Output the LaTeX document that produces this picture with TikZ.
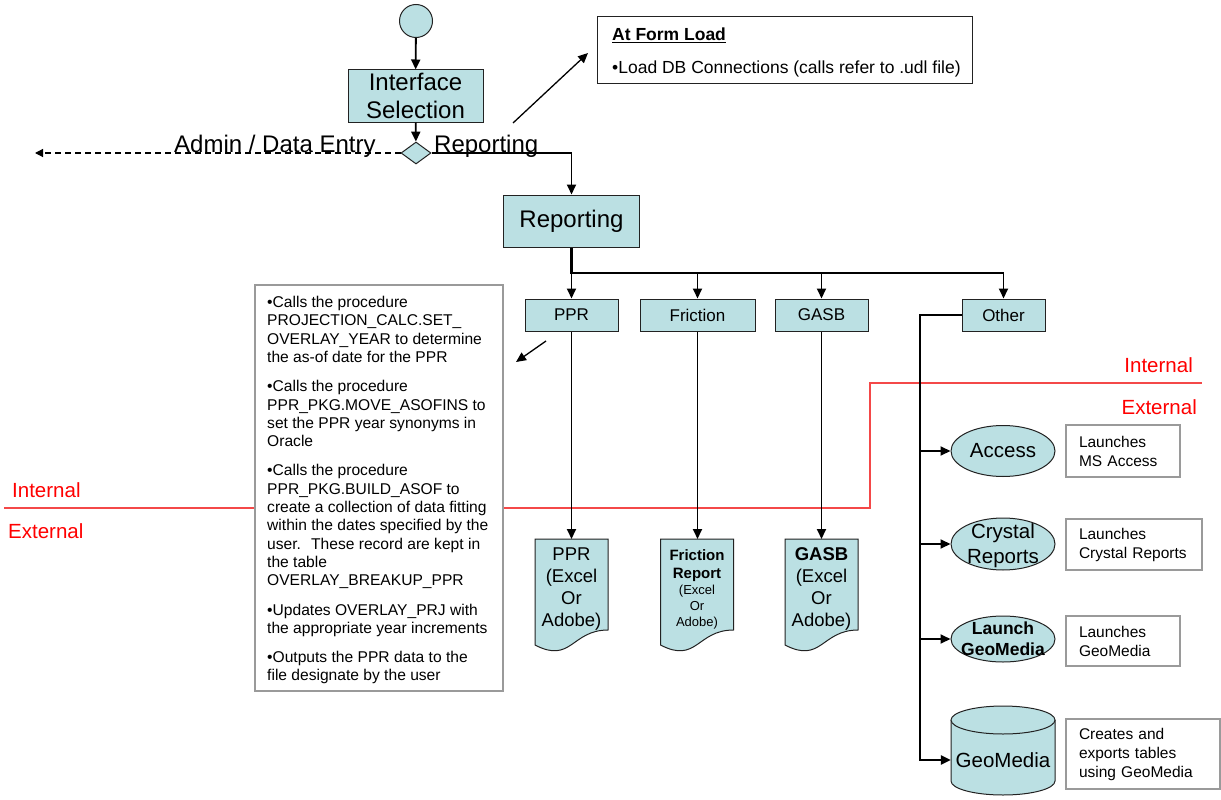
\documentclass[tikz,border=0pt]{standalone}
\usepackage{fontspec}
\setmainfont{Liberation Sans}
\usetikzlibrary{arrows.meta,shapes.geometric,calc}
\definecolor{boxfill}{HTML}{BBE0E3}
\definecolor{edge}{HTML}{222222}
\definecolor{notegray}{HTML}{9A9A9A}
\definecolor{zonered}{HTML}{FF0000}
\definecolor{zoneline}{HTML}{F44848}
\newcommand{\fsz}[2]{\fontsize{#1}{#2}\selectfont}
% document shape with a wavy bottom edge, drawn around a centre coordinate
\newcommand{\docshape}[1]{%
  \filldraw[docbody] ($(#1)+(-36.5,-56)$) -- ($(#1)+(36.5,-56)$) -- ($(#1)+(36.5,35)$)
    .. controls ($(#1)+(0,35)$) and ($(#1)+(0,69)$) .. ($(#1)+(-36.5,50)$) -- cycle;}

\begin{document}
\begin{tikzpicture}[x=1pt,y=-1pt,
  flow/.style={draw=edge, fill=boxfill, line width=1pt, inner sep=0pt},
  docbody/.style={draw=edge, fill=boxfill, line width=1pt},
  desc/.style={draw=notegray, fill=white, line width=1.2pt, inner xsep=13pt, inner ysep=0pt, align=left, font=\fsz{15.5}{19}},
  arr/.style={draw=black, line width=1.8pt, -{Triangle[length=10pt,width=9pt]}},
  trunk/.style={draw=black, line width=2.5pt},
  zone/.style={text=zonered, inner sep=0pt, font=\fsz{20.5}{24}},
  txt/.style={inner sep=0pt},
]
\fill[white] (0,0) rectangle (1221,800);
\useasboundingbox (0,0) rectangle (1221,800);

% internal / external boundary
\draw[zoneline, line width=1.5pt] (4,508) -- (870,508) -- (870,383) -- (1202,383);
\node[zone, anchor=base west] (intl) at (12,497) {Internal};
\node[zone, anchor=base west] (extl) at (8,538) {External};
\node[zone, anchor=base east] (intr) at (1193,372) {Internal};
\node[zone, anchor=base east] (extr) at (1197,414) {External};

% start and interface selection
\node[flow, circle, minimum size=33pt] (start) at (416,21) {};
\node[flow, minimum width=135pt, minimum height=52pt, align=center, font=\fsz{24}{28}] (iface) at (415.5,96) {Interface\\Selection};
\node[flow, diamond, minimum width=30pt, minimum height=22pt] (dec) at (416,153) {};
\draw[arr] (start) -- (iface);
\draw[arr] (iface) -- (dec);

% branch labels
\coordinate (adminend) at (35,153);
\draw[line width=1.2pt, dash pattern=on 6pt off 4pt, -{Triangle[length=8pt,width=8pt]}] (dec.west) -- (adminend);
\node[txt, anchor=base west, font=\fsz{24}{28}] (adminlbl) at (174,152) {Admin / Data Entry};
\node[txt, anchor=base west, font=\fsz{24}{28}] (replbl) at (434,152) {Reporting};

% form load note
\node[draw=edge, line width=1pt, fill=white, minimum width=375pt, minimum height=67pt] (formbox) at (784.5,50.5) {};
\node[txt, anchor=base west, font=\bfseries\fsz{17.5}{21}] (formtitle) at (612,41) {\underline{At Form Load}};
\node[txt, anchor=base west, font=\fsz{17.5}{21}] (formitem) at (612,74) {•Load DB Connections (calls refer to .udl file)};
\coordinate (fl1) at (513,123);
\coordinate (fl2) at (588,53);
\draw[arr, line width=1.3pt] (fl1) -- (fl2);

% reporting
\node[flow, minimum width=136pt, minimum height=52pt, font=\fsz{24}{28}] (rep) at (571.5,221) {Reporting};
\draw[arr] (dec.east) -| (rep.north);

\node[flow, minimum width=93pt, minimum height=32pt, font=\fsz{17}{20}] (ppr) at (571.5,315) {PPR};
\node[flow, minimum width=115pt, minimum height=32pt, font=\fsz{17}{20}] (fric) at (697.5,315) {Friction};
\node[flow, minimum width=93pt, minimum height=32pt, font=\fsz{17}{20}] (gasb) at (821.5,315) {GASB};
\node[flow, minimum width=83pt, minimum height=32pt, font=\fsz{17}{20}] (other) at (1003.5,315) {Other};

\coordinate (bus) at (571.5,273);
\draw[trunk] (rep.south) -- (bus) -- (bus -| other.north);
\draw[arr] (bus) -- (ppr.north);
\draw[arr] (bus -| fric.north) -- (fric.north);
\draw[arr] (bus -| gasb.north) -- (gasb.north);
\draw[arr] (bus -| other.north) -- (other.north);

% report outputs
\coordinate (pprc) at (571.5,595);
\coordinate (fricc) at (697,595);
\coordinate (gasbc) at (821.5,595);
\docshape{pprc}
\docshape{fricc}
\docshape{gasbc}
\coordinate (pprtop) at (571.5,539);
\coordinate (frictop) at (697.5,539);
\coordinate (gasbtop) at (821.5,539);
\draw[arr] (ppr) -- (pprtop);
\draw[arr] (fric) -- (frictop);
\draw[arr] (gasb) -- (gasbtop);
\node[txt, text width=73pt, align=center, font=\fsz{18.5}{22}] (pprdoc) at (571.5,589) {PPR\\(Excel\\Or\\Adobe)};
\node[txt, text width=73pt, align=center, font=\fsz{15}{18}] (fricdoc) at (697,589) {\bfseries Friction\\Report\par\mdseries\fsz{13}{16}(Excel\\Or\\Adobe)\par};
\node[txt, text width=73pt, align=center, font=\fsz{18.5}{22}] (gasbdoc) at (821.5,589) {\bfseries GASB\par\mdseries (Excel\\Or\\Adobe)};

% procedure notes
\node[draw=notegray, line width=1.2pt, fill=white, minimum width=248pt, minimum height=406pt] (procbox) at (379,488) {};
\node[txt, anchor=north west, align=left, font=\fsz{15.6}{18.3}] (proctext) at (267,296) {%
•Calls the procedure\\
PROJECTION\_CALC.SET\_\\
OVERLAY\_YEAR to determine\\
the as-of date for the PPR\\[11pt]
•Calls the procedure\\
PPR\_PKG.MOVE\_ASOFINS to\\
set the PPR year synonyms in\\
Oracle\\[11pt]
•Calls the procedure\\
PPR\_PKG.BUILD\_ASOF to\\
create a collection of data fitting\\
within the dates specified by the\\
user.~ These record are kept in\\
the table\\
OVERLAY\_BREAKUP\_PPR\\[11pt]
•Updates OVERLAY\_PRJ with\\
the appropriate year increments\\[11pt]
•Outputs the PPR data to the\\
file designate by the user};
\coordinate (pa1) at (546,341);
\coordinate (pa2) at (516,362);
\draw[arr, line width=1.3pt] (pa1) -- (pa2);

% other tools
\node[flow, ellipse, minimum width=104pt, minimum height=51pt] (acc) at (1003,451) {};
\node[txt, font=\fsz{20.5}{24}] (acctext) at (acc) {Access};
\node[flow, ellipse, minimum width=104pt, minimum height=52pt] (cry) at (1003,544) {};
\node[txt, align=center, font=\fsz{20.5}{24.5}] (crytext) at (1003,545.5) {Crystal\\Reports};
\node[flow, ellipse, minimum width=104pt, minimum height=46pt] (lgm) at (1003,639) {};
\node[txt, align=center, font=\bfseries\fsz{17.5}{21}] (lgmtext) at (lgm) {Launch\\GeoMedia};

% GeoMedia database cylinder
\fill[boxfill] (951,720) -- (951,781) arc[start angle=180, end angle=0, x radius=52, y radius=14] -- (1055,720) -- cycle;
\draw[edge, line width=1pt] (951,720) -- (951,781) arc[start angle=180, end angle=0, x radius=52, y radius=14] -- (1055,720);
\filldraw[draw=edge, fill=boxfill, line width=1pt] (1003,720) ellipse [x radius=52, y radius=14];
\node[txt, minimum width=104pt, font=\fsz{20.5}{24}] (geomedia) at (1003,760) {GeoMedia};

\coordinate (otrunk) at (920,315);
\draw[trunk, -{Triangle[length=10pt,width=9pt]}] (other.west) -- (otrunk) |- (geomedia.west);
\draw[arr] (otrunk |- acc.west) -- (acc.west);
\draw[arr] (otrunk |- cry.west) -- (cry.west);
\draw[arr] (otrunk |- lgm.west) -- (lgm.west);

\node[desc, minimum width=114pt, minimum height=52pt, text width=88pt] (accdesc) at (1123,451) {Launches\\MS Access};
\node[desc, minimum width=136pt, minimum height=51pt, text width=110pt] (crydesc) at (1134,544.5) {Launches\\Crystal Reports};
\node[desc, minimum width=114pt, minimum height=50pt, text width=88pt] (lgmdesc) at (1123,641) {Launches\\GeoMedia};
\node[desc, minimum width=154pt, minimum height=70pt, text width=128pt] (gmdesc) at (1143,754) {Creates and\\exports tables\\using GeoMedia};
\end{tikzpicture}
\end{document}
